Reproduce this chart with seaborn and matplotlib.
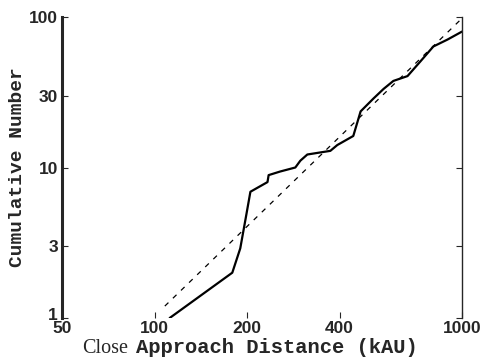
import pandas as pd
import matplotlib.pyplot as plt
from matplotlib.ticker import FixedLocator, FixedFormatter, NullLocator
from matplotlib.transforms import ScaledTranslation
import seaborn as sns

# cumulative number of close approaches (solid curve)
dist_kau = [112, 179, 190, 199, 205, 233, 235, 256, 287, 298, 314, 373, 393,
            443, 468, 515, 556, 598, 665, 733, 807, 897, 1000]
cum_num = [1.0, 2.0, 2.9, 4.9, 6.9, 8.0, 8.9, 9.4, 10.0, 11.1, 12.2, 12.9, 14.1,
           16.2, 23.6, 28.7, 33.3, 37.6, 40.5, 50.8, 63.7, 70.8, 80]

# power-law fit (dashed line)
fit_x = [108, 1000]
fit_y = [1.2, 98]

x_ticks = [50, 100, 200, 400, 1000]
x_labels = ['50', '100', '200', '400', '1000']
y_ticks = [1, 3, 10, 30, 100]
y_labels = ['1', '3', '10', '30', '100']

sns.set_theme(style="ticks")
plt.rcParams['font.family'] = ['Liberation Sans', 'DejaVu Sans']

fig = plt.figure(figsize=(4.81, 3.6), dpi=100)
# axes box in pixels: left 62, right 462, top 17, bottom 318
ax = fig.add_axes([62 / 481, 42 / 360, 400 / 481, 301 / 360])

df = pd.DataFrame({'d': dist_kau, 'n': cum_num})
fit = pd.DataFrame({'d': fit_x, 'n': fit_y})

sns.lineplot(data=df, x='d', y='n', ax=ax, color='black', linewidth=1.6, sort=False)
sns.lineplot(data=fit, x='d', y='n', ax=ax, color='black', linewidth=0.9,
             linestyle=(0, (4, 5)), sort=False)

ax.set_xscale('log')
ax.set_yscale('log')
ax.set_xlim(50, 1000)
ax.set_ylim(1, 100)

ax.xaxis.set_major_locator(FixedLocator(x_ticks))
ax.xaxis.set_major_formatter(FixedFormatter(x_labels))
ax.yaxis.set_major_locator(FixedLocator(y_ticks))
ax.yaxis.set_major_formatter(FixedFormatter(y_labels))
ax.xaxis.set_minor_locator(NullLocator())
ax.yaxis.set_minor_locator(NullLocator())

ax.tick_params(axis='both', direction='in', length=4, width=0.8, labelsize=12.5)
ax.tick_params(axis='x', pad=2)
ax.tick_params(axis='y', right=True, pad=3)
for lab in ax.get_xticklabels() + ax.get_yticklabels():
    lab.set_fontweight('bold')

# nudge the lowest y label up a little so it clears the "50"
fig.canvas.draw()
ylabs = ax.get_yticklabels()
ylabs[0].set_transform(ylabs[0].get_transform() +
                       ScaledTranslation(0, 4 / 100, fig.dpi_scale_trans))

ax.spines['top'].set_visible(False)
ax.spines['bottom'].set_visible(False)
ax.spines['left'].set_linewidth(2.2)
ax.spines['right'].set_linewidth(1.0)

ax.set_xlabel('')
ax.set_ylabel('Cumulative Number', fontsize=14, fontweight='bold',
              family='Liberation Mono', labelpad=2)

# x label: "Close" set in a serif face, the rest in bold monospace
fig.text(82 / 481, 7 / 360, 'Close', fontsize=14.5, family='Liberation Serif',
         ha='left', va='baseline')
fig.text(136 / 481, 7 / 360, 'Approach Distance (kAU)', fontsize=14.8,
         fontweight='bold', family='Liberation Mono', ha='left', va='baseline')

fig.savefig('out.png', dpi=100, facecolor='white')
